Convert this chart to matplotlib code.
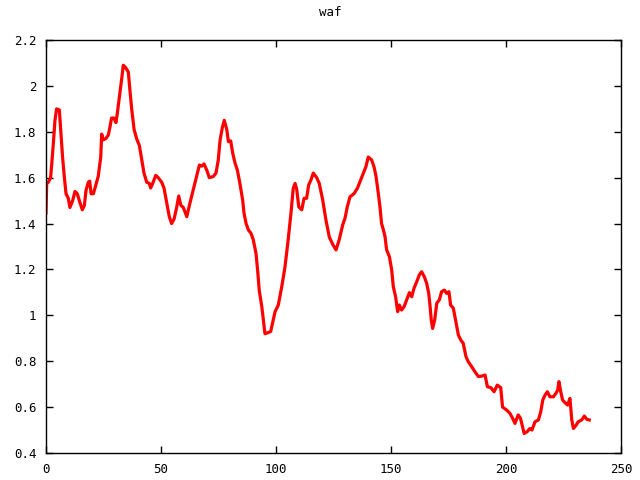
import matplotlib
matplotlib.use('Agg')
import matplotlib.pyplot as plt
from matplotlib.ticker import FuncFormatter

title = 'waf'

x = [0, 0.3, 1, 2, 2.5, 3.2, 3.9, 4.6, 5.8, 6.4,
     7.2, 8, 8.7, 9.7, 10.4, 11.6, 12.6, 13.6, 14.8, 15.8,
     16.7, 17.4, 18.4, 19, 19.6, 20.6, 21.3, 22.7, 23.8, 24.2,
     24.9, 26, 27.1, 27.8, 28.5, 29.5, 30.4, 31, 31.9, 32.9,
     33.6, 34.6, 35.8, 36.5, 37.3, 38.3, 39.4, 40.6, 41.6, 42.6,
     43.8, 44.9, 45.5, 46.4, 47.7, 48.8, 50.3, 51.3, 52.5, 53.6,
     54.6, 55.7, 56.8, 57.7, 58.6, 59.7, 61.2, 62.6, 64, 65.5,
     66.7, 67.7, 68.7, 69.9, 71, 72.7, 73.9, 74.9, 75.7, 76.7,
     77.5, 78.6, 79.3, 80.3, 81.2, 82.2, 83.2, 84.3, 85.5, 86.1,
     87, 88, 89.1, 90.1, 91.3, 92, 92.7, 93.8, 94.5, 95.2,
     96.7, 97.7, 98.8, 99.6, 101, 102.5, 103.9, 105.3, 106.5, 107.5,
     108.3, 109, 109.9, 111.2, 112.2, 113.3, 114.2, 115.2, 116.2, 117.7,
     118.8, 120.3, 121.7, 123.2, 124.9, 126.1, 127.5, 129, 130, 131,
     132.2, 133.9, 135.4, 136.8, 138, 139.1, 140.1, 141.6, 142.6, 143.5,
     144.5, 145.2, 145.9, 146.7, 147.4, 148.1, 149.3, 150.3, 151, 152,
     152.9, 153.6, 154.6, 155.7, 156.8, 158, 159, 160, 161.2, 162.3,
     163.3, 164.5, 165.5, 166.4, 167, 167.5, 168.1, 169, 169.9, 171,
     172, 173.2, 174.2, 175.2, 175.9, 177.1, 177.8, 178.6, 179.3, 180.3,
     181.4, 182.6, 183.6, 185.1, 186.5, 188, 189.4, 190.9, 191.9, 193.4,
     194.8, 196.2, 197.7, 198.5, 200.3, 201.7, 202.9, 203.9, 205.3, 206.3,
     207.2, 207.9, 209.2, 210.4, 211.3, 212.6, 214.1, 215.1, 216, 217,
     218, 219.1, 220.6, 221.7, 222.5, 223, 223.8, 224.6, 225.6, 226.8,
     227.8, 228.6, 229.3, 230.4, 231.4, 232.9, 234.1, 235.1, 236.2]

y = [1.446, 1.575, 1.58, 1.60, 1.66, 1.75, 1.85, 1.90, 1.895, 1.81,
     1.69, 1.60, 1.53, 1.51, 1.47, 1.50, 1.54, 1.53, 1.49, 1.46,
     1.48, 1.545, 1.58, 1.585, 1.53, 1.53, 1.555, 1.605, 1.69, 1.79,
     1.765, 1.77, 1.786, 1.82, 1.86, 1.86, 1.84, 1.88, 1.95, 2.03,
     2.09, 2.08, 2.06, 1.98, 1.895, 1.81, 1.77, 1.74, 1.68, 1.62,
     1.58, 1.575, 1.555, 1.575, 1.61, 1.60, 1.58, 1.555, 1.49, 1.43,
     1.40, 1.42, 1.47, 1.52, 1.48, 1.47, 1.43, 1.49, 1.546, 1.605,
     1.655, 1.65, 1.66, 1.633, 1.60, 1.605, 1.62, 1.677, 1.765, 1.82,
     1.85, 1.81, 1.757, 1.76, 1.706, 1.663, 1.633, 1.575, 1.503, 1.445,
     1.40, 1.372, 1.358, 1.33, 1.27, 1.198, 1.11, 1.04, 0.98, 0.92,
     0.925, 0.93, 0.98, 1.016, 1.045, 1.125, 1.21, 1.33, 1.445, 1.554,
     1.575, 1.55, 1.473, 1.46, 1.51, 1.51, 1.568, 1.59, 1.62, 1.60,
     1.575, 1.503, 1.416, 1.34, 1.305, 1.285, 1.33, 1.394, 1.423, 1.473,
     1.517, 1.53, 1.554, 1.59, 1.62, 1.648, 1.69, 1.677, 1.648, 1.605,
     1.53, 1.473, 1.40, 1.372, 1.343, 1.285, 1.256, 1.198, 1.125, 1.081,
     1.016, 1.045, 1.023, 1.038, 1.067, 1.099, 1.081, 1.118, 1.147, 1.176,
     1.19, 1.168, 1.14, 1.096, 1.038, 0.98, 0.943, 0.98, 1.053, 1.067,
     1.103, 1.11, 1.096, 1.103, 1.045, 1.031, 0.994, 0.95, 0.914, 0.893,
     0.878, 0.82, 0.798, 0.776, 0.754, 0.733, 0.735, 0.74, 0.689, 0.685,
     0.667, 0.696, 0.685, 0.60, 0.587, 0.573, 0.551, 0.529, 0.566, 0.551,
     0.514, 0.485, 0.493, 0.507, 0.50, 0.536, 0.544, 0.58, 0.631, 0.653,
     0.667, 0.645, 0.645, 0.66, 0.675, 0.711, 0.667, 0.631, 0.62, 0.609,
     0.638, 0.544, 0.507, 0.52, 0.536, 0.544, 0.561, 0.547, 0.544]

xticks = [0, 50, 100, 150, 200, 250]
yticks = [0.4, 0.6, 0.8, 1.0, 1.2, 1.4, 1.6, 1.8, 2.0, 2.2]

plt.rcParams['font.family'] = ['DejaVu Sans Mono']
plt.rcParams['font.size'] = 9

fig = plt.figure(figsize=(6.4, 4.8), dpi=100)
ax = fig.add_axes([46/640, 27/480, 575/640, 413/480])
ax.plot(x, y, color='#ff0000', linewidth=2.3)

ax.set_xlim(0, 250)
ax.set_ylim(0.4, 2.2)
ax.set_xticks(xticks)
ax.set_yticks(yticks)
ax.yaxis.set_major_formatter(FuncFormatter(lambda v, p: '%g' % round(v, 2)))
ax.tick_params(direction='in', top=True, right=True, length=5, width=1, pad=7)
for s in ax.spines.values():
    s.set_linewidth(1)

fig.text(0.5 + 10/640, 1 - 13/480, title, ha='center', va='center', fontsize=9)

fig.savefig('out.png', dpi=100)
